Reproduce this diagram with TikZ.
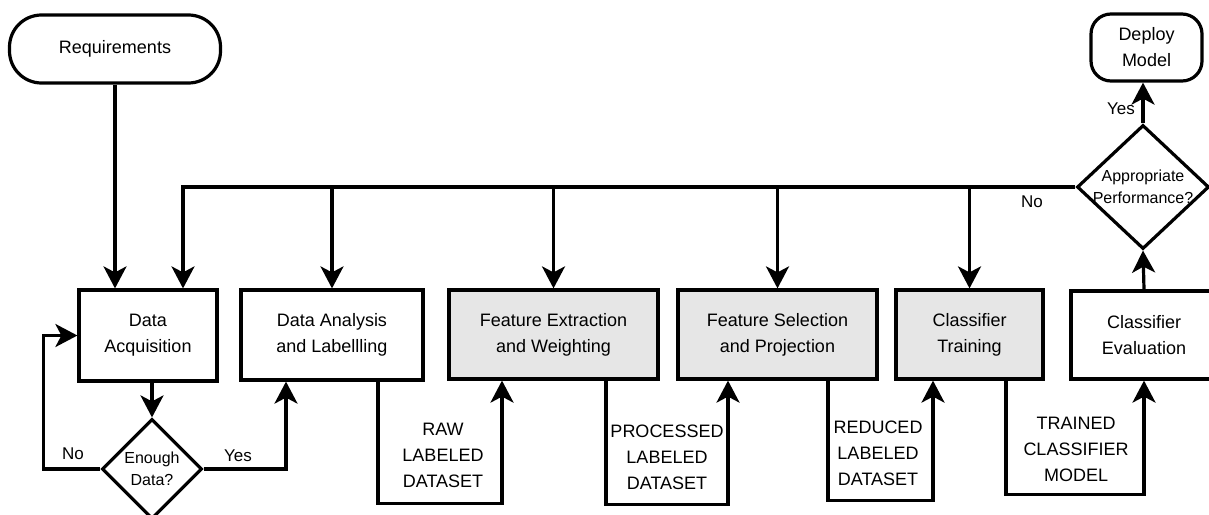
\documentclass[tikz,border=0pt]{standalone}
\usepackage{fontspec}
\setmainfont{Liberation Sans}
\usetikzlibrary{shapes.geometric,arrows.meta}
\definecolor{stagegray}{HTML}{E6E6E6}
\tikzset{
  txt/.style={font=\fontsize{18}{26}\selectfont, align=center, inner sep=0pt},
  smalltxt/.style={font=\fontsize{16}{22}\selectfont, align=center, inner sep=0pt},
  term/.style={draw, line width=3.2pt, txt},
  stagebox/.style={draw, line width=3.2pt, txt},
  graybox/.style={stagebox, fill=stagegray},
  decision/.style={draw, line width=3.2pt, diamond, inner sep=0pt},
  arr/.style={line width=3.2pt, -{Stealth[length=22pt, width=23pt, inset=6pt]}},
  plain/.style={line width=3.2pt}
}
\begin{document}
\begin{tikzpicture}[x=1pt, y=-1pt]
\useasboundingbox (0,0) rectangle (1209,514);

% terminals
\node[term, minimum width=211pt, minimum height=68pt, rounded corners=32pt] (req) at (115,49) {Requirements};
\node[term, minimum width=111pt, minimum height=67pt, rounded corners=20pt] (dep) at (1146.5,47.5) {Deploy\\Model};

% processing stages
\node[stagebox, minimum width=138pt, minimum height=91pt] (acq) at (148,335.5) {Data\\Acquisition};
\node[stagebox, minimum width=182pt, minimum height=90pt] (ana) at (332,335) {Data Analysis\\and Labellling};
\node[graybox, minimum width=209pt, minimum height=89pt] (ext) at (553.5,334.5) {Feature Extraction\\and Weighting};
\node[graybox, minimum width=199pt, minimum height=89pt] (sel) at (777.5,334.5) {Feature Selection\\and Projection};
\node[graybox, minimum width=147pt, minimum height=89pt] (trn) at (969.5,334.5) {Classifier\\Training};
\node[stagebox, minimum width=146pt, minimum height=88pt] (evl) at (1144,335) {Classifier\\Evaluation};

% decisions
\node[decision, minimum width=100pt, minimum height=100pt] (enough) at (152,469) {};
\node[smalltxt] (enoughtxt) at (enough) {Enough\\Data?};
\node[decision, minimum width=132pt, minimum height=124pt] (perf) at (1143,187) {};
\node[smalltxt] (perftxt) at (perf) {Appropriate\\Performance?};

% requirements into acquisition
\draw[arr] (req.south) -- (req.south |- acq.north);

% enough data?
\draw[arr] (enough.north |- acq.south) -- (enough.north);
\draw[arr] (enough.west) -- ([xshift=-57pt]enough.west) |- (acq.west);
\draw[arr] (enough.east) -| ([xshift=-46pt]ana.south);
\node[txt, font=\fontsize{17}{20}\selectfont] (noA) at (73,454) {No};
\node[txt, font=\fontsize{17}{20}\selectfont] (yesA) at (238,456) {Yes};

% datasets passed between stages
\draw[arr] ([xshift=46pt]ana.south) -- ++(0,122) -| ([xshift=-51.5pt]ext.south);
\draw[arr] ([xshift=52.5pt]ext.south) -- ++(0,124) -| ([xshift=-49.5pt]sel.south);
\draw[arr] ([xshift=50.5pt]sel.south) -- ++(0,120) -| ([xshift=-36.5pt]trn.south);
\draw[arr] ([xshift=36.5pt]trn.south) -- ++(0,114) -| (evl.south);
\node[txt] (raw) at (443,455) {RAW\\LABELED\\DATASET};
\node[txt] (proc) at (667,457) {PROCESSED\\LABELED\\DATASET};
\node[txt] (red) at (878,453) {REDUCED\\LABELED\\DATASET};
\node[txt] (trained) at (1076,449) {TRAINED\\CLASSIFIER\\MODEL};

% evaluation and deployment
\draw[arr] (evl.north) -- (perf.south);
\draw[arr] (perf.north) -- (perf.north |- dep.south);
\node[txt, font=\fontsize{17}{20}\selectfont] (yesB) at (1121,109) {Yes};

% feedback bus back to every stage
\coordinate (fb) at (183,187);
\draw[arr] (perf.west) -- (fb) -- (fb |- acq.north);
\draw[arr] (ana.north |- fb) -- (ana.north);
\draw[arr] (ext.north |- fb) -- (ext.north);
\draw[arr] (sel.north |- fb) -- (sel.north);
\draw[arr] (trn.north |- fb) -- (trn.north);
\node[txt, font=\fontsize{17}{20}\selectfont] (noB) at (1032,202) {No};
\end{tikzpicture}
\end{document}
